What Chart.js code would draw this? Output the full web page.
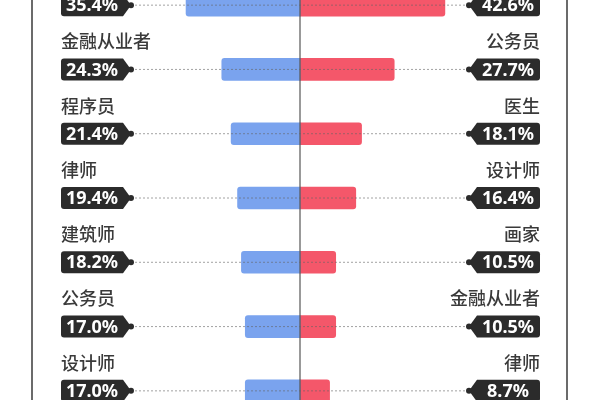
<!DOCTYPE html>
<html>
<head>
<meta charset="utf-8">
<script src="https://cdn.jsdelivr.net/npm/chart.js@4"></script>
<style>
  html, body { margin: 0; padding: 0; background: #fff; }
  #wrap { position: relative; width: 600px; height: 400px; overflow: hidden; }
  #box { position: absolute; left: 0; top: -27px; width: 600px; height: 450px; }
</style>
</head>
<body>
<div id="wrap"><div id="box"><canvas id="chart"></canvas></div></div>
<script>
// left column (blue) and right column (red), top row is cut off in the picture
const leftCats = ['医生', '金融从业者', '程序员', '律师', '建筑师', '公务员', '设计师'];
const leftVals = [35.4, 24.3, 21.4, 19.4, 18.2, 17.0, 17.0];
const rightCats = ['教师', '公务员', '医生', '设计师', '画家', '金融从业者', '律师'];
const rightVals = [42.6, 27.7, 18.1, 16.4, 10.5, 10.5, 8.7];

// tag outline: rounded box with a point towards the middle
function tagPath(ctx, outer, inner, tip, cy) {
    const dir = tip > outer ? 1 : -1;
    const r = 3;
    ctx.beginPath();
    ctx.moveTo(outer + dir * r, cy - 11);
    ctx.lineTo(inner, cy - 11);
    ctx.lineTo(tip, cy);
    ctx.lineTo(inner, cy + 11);
    ctx.lineTo(outer + dir * r, cy + 11);
    ctx.quadraticCurveTo(outer, cy + 11, outer, cy + 11 - r);
    ctx.lineTo(outer, cy - 11 + r);
    ctx.quadraticCurveTo(outer, cy - 11, outer + dir * r, cy - 11);
    ctx.closePath();
    ctx.fill();
    ctx.beginPath();
    ctx.arc(tip, cy, 3, 0, Math.PI * 2);
    ctx.fill();
}

const tagPlugin = {
    id: 'tags',
    afterDatasetsDraw(chart) {
        const ctx = chart.ctx;
        const y = chart.scales.y;
        const area = chart.chartArea;
        const mid = chart.scales.xl.getPixelForValue(0);

        ctx.save();
        // frame and centre line
        ctx.strokeStyle = '#3a3a3a';
        ctx.lineWidth = 1.5;
        [32, 567].forEach(function (x) {
            ctx.beginPath();
            ctx.moveTo(x, area.top);
            ctx.lineTo(x, area.bottom);
            ctx.stroke();
        });
        ctx.strokeStyle = '#555';
        ctx.lineWidth = 1.2;
        ctx.beginPath();
        ctx.moveTo(mid, area.top);
        ctx.lineTo(mid, area.bottom);
        ctx.stroke();

        leftCats.forEach(function (cat, i) {
            const cy = y.getPixelForValue(i);

            // dotted guide
            ctx.strokeStyle = 'rgba(100,100,100,0.6)';
            ctx.lineWidth = 1;
            ctx.setLineDash([2, 2]);
            ctx.beginPath();
            ctx.moveTo(131, cy);
            ctx.lineTo(469, cy);
            ctx.stroke();
            ctx.setLineDash([]);

            ctx.fillStyle = '#2b2b2b';
            tagPath(ctx, 61, 123, 131, cy);
            tagPath(ctx, 540, 477, 469, cy);

            ctx.fillStyle = '#fff';
            ctx.font = 'bold 18px "Noto Sans", sans-serif';
            ctx.textBaseline = 'middle';
            ctx.textAlign = 'center';
            ctx.fillText(leftVals[i].toFixed(1) + '%', 92, cy + 1);
            ctx.fillText(rightVals[i].toFixed(1) + '%', 508, cy + 1);

            ctx.fillStyle = '#3a3a3a';
            ctx.font = '500 18px "Noto Sans CJK SC", sans-serif';
            ctx.textAlign = 'left';
            ctx.fillText(cat, 61, cy - 28);
            ctx.textAlign = 'right';
            ctx.fillText(rightCats[i], 540, cy - 28);
        });
        ctx.restore();
    }
};

new Chart(document.getElementById('chart').getContext('2d'), {
    type: 'bar',
    data: {
        labels: leftCats,
        datasets: [{
            label: 'left',
            data: leftVals.map(v => -v),
            xAxisID: 'xl',
            backgroundColor: '#7aa3ee',
            borderRadius: 3,
            barThickness: 22,
            grouped: false
        }, {
            label: 'right',
            data: rightVals,
            xAxisID: 'xr',
            backgroundColor: '#f4576a',
            borderRadius: 3,
            barThickness: 22,
            grouped: false
        }]
    },
    options: {
        indexAxis: 'y',
        responsive: true,
        maintainAspectRatio: false,
        animation: false,
        layout: { padding: 0 },
        plugins: {
            legend: { display: false },
            tooltip: { enabled: false }
        },
        scales: {
            y: { display: false },
            xl: { display: false, min: -93.2, max: 93.2 },
            xr: { display: false, min: -88.2, max: 88.2 }
        }
    },
    plugins: [tagPlugin]
});
</script>
</body>
</html>
